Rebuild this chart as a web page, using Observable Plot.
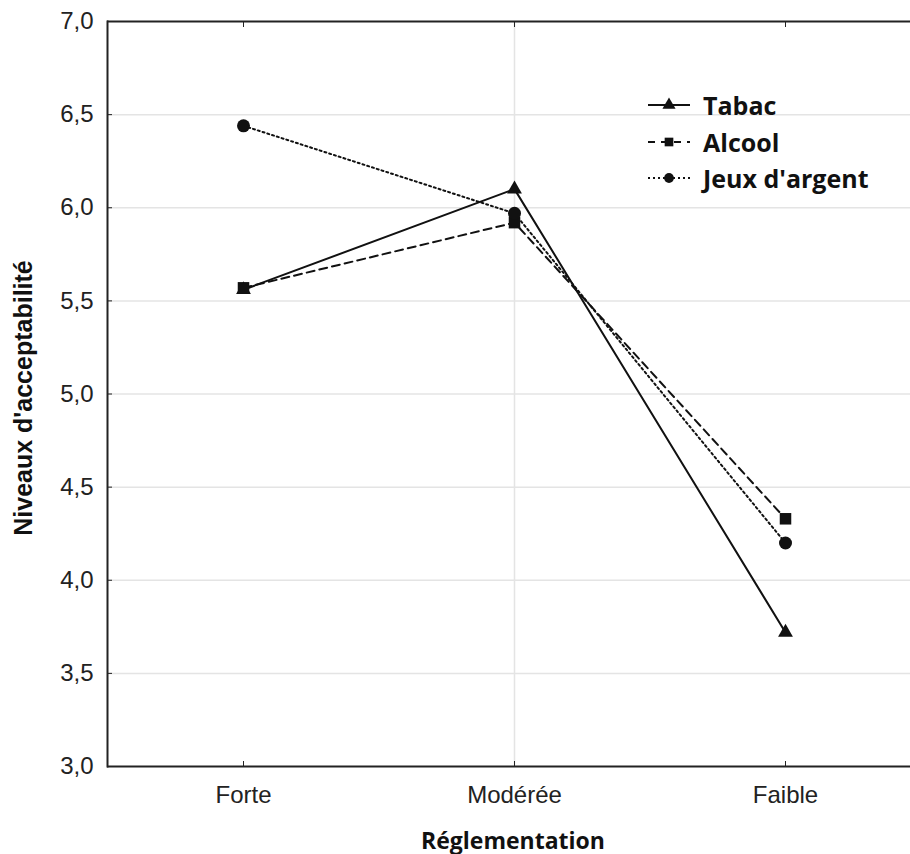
<!DOCTYPE html>
<html>
<head>
<meta charset="utf-8">
<script src="https://cdn.jsdelivr.net/npm/d3@7"></script>
<script src="https://cdn.jsdelivr.net/npm/@observablehq/plot@0.6"></script>
<style>
  html, body { margin: 0; padding: 0; background: #fff; }
  #wrap { position: relative; width: 910px; height: 854px; overflow: hidden; }
  #legend { position: absolute; left: 648px; top: 87px; font-family: "Open Sans", sans-serif; font-weight: 700; font-size: 25px; color: #111; }
  #legend .row { display: flex; align-items: center; height: 36.5px; }
  #legend svg { margin-right: 13px; }
</style>
</head>
<body>
<div id="wrap"><div id="legend"></div></div>
<script>
const categories = ["Forte", "Modérée", "Faible"];
const series = ["Tabac", "Alcool", "Jeux d'argent"];
const tabac = [5.56, 6.10, 3.72];
const alcool = [5.57, 5.92, 4.33];
const jeux = [6.44, 5.97, 4.20];
const yTicks = [3.0, 3.5, 4.0, 4.5, 5.0, 5.5, 6.0, 6.5, 7.0];
const gridTicks = [3.5, 4.0, 4.5, 5.0, 5.5, 6.0, 6.5];
const xLabel = "Réglementation";
const yLabel = "Niveaux d'acceptabilité";

const values = {"Tabac": tabac, "Alcool": alcool, "Jeux d'argent": jeux};
const dashes = {"Tabac": null, "Alcool": "8,5", "Jeux d'argent": "2,3"};
const symbols = {"Tabac": "triangle", "Alcool": "square", "Jeux d'argent": "circle"};
const radii = {"Tabac": 5.5, "Alcool": 6.5, "Jeux d'argent": 6.5};
const rows = series.flatMap(s => categories.map((c, i) => ({series: s, cat: c, value: values[s][i]})));

const fmt = d => d.toFixed(1).replace(".", ",");
const tickFont = "'Liberation Sans', Arial, sans-serif";

const chart = Plot.plot({
  width: 910,
  height: 854,
  marginLeft: 107,
  marginRight: 0,
  marginTop: 21,
  marginBottom: 88,
  style: {background: "white", color: "#222"},
  x: {type: "point", domain: categories, range: [107, 921], padding: 0.5},
  y: {domain: [3, 7]},
  symbol: {domain: series, range: series.map(s => symbols[s])},
  marks: [
    Plot.ruleY(gridTicks, {stroke: "#e4e4e4", strokeWidth: 1.5}),
    Plot.ruleX(["Modérée"], {stroke: "#e4e4e4", strokeWidth: 1.5}),
    ...series.map(s => Plot.line(rows.filter(r => r.series === s), {
      x: "cat", y: "value", stroke: "#111", strokeWidth: 2, strokeDasharray: dashes[s]
    })),
    ...series.map(s => Plot.dot(rows.filter(r => r.series === s), {
      x: "cat", y: "value", symbol: "series", fill: "#111", r: radii[s]
    })),
    Plot.ruleY([3, 7], {stroke: "#222", strokeWidth: 2}),
    Plot.frame({anchor: "left", stroke: "#222", strokeWidth: 2}),
    Plot.axisY(yTicks, {tickSize: 0, tickPadding: 14, tickFormat: fmt, label: null, fontSize: 24, fontFamily: tickFont}),
    Plot.axisY(yTicks, {tickSize: -5, tickFormat: () => "", label: null}),
    Plot.axisX({tickSize: 0, tickPadding: 19, label: null, fontSize: 24, fontFamily: tickFont}),
    Plot.axisX({tickSize: -5, tickFormat: () => "", label: null}),
    Plot.axisX({anchor: "top", tickSize: -5, tickFormat: () => "", label: null}),
    Plot.text([xLabel], {frameAnchor: "bottom", dx: 4, dy: 82, text: d => d, fontSize: 23, fontWeight: "bold", fontFamily: "'Open Sans', sans-serif", fill: "#111"}),
    Plot.text([yLabel], {frameAnchor: "left", dx: -84, dy: 4, rotate: -90, textAnchor: "middle", text: d => d, fontSize: 25, fontWeight: "bold", fontFamily: "'Liberation Sans', Arial, sans-serif", fill: "#111"})
  ]
});
document.getElementById("wrap").prepend(chart);

const legend = document.getElementById("legend");
const ns = "http://www.w3.org/2000/svg";
for (const s of series) {
  const row = document.createElement("div");
  row.className = "row";
  const svg = document.createElementNS(ns, "svg");
  svg.setAttribute("width", 42); svg.setAttribute("height", 20);
  const line = document.createElementNS(ns, "line");
  line.setAttribute("x1", 0); line.setAttribute("x2", 42); line.setAttribute("y1", 10); line.setAttribute("y2", 10);
  line.setAttribute("stroke", "#111"); line.setAttribute("stroke-width", 2);
  if (dashes[s]) line.setAttribute("stroke-dasharray", s === "Alcool" ? "7,6" : "2,3");
  svg.appendChild(line);
  const path = document.createElementNS(ns, "path");
  const sym = {triangle: d3.symbolTriangle, square: d3.symbolSquare, circle: d3.symbolCircle}[symbols[s]];
  path.setAttribute("d", d3.symbol(sym, 75)());
  path.setAttribute("transform", "translate(21,10)");
  path.setAttribute("fill", "#111");
  svg.appendChild(path);
  row.appendChild(svg);
  const t = document.createElement("span");
  t.textContent = s;
  row.appendChild(t);
  legend.appendChild(row);
}
</script>
</body>
</html>
